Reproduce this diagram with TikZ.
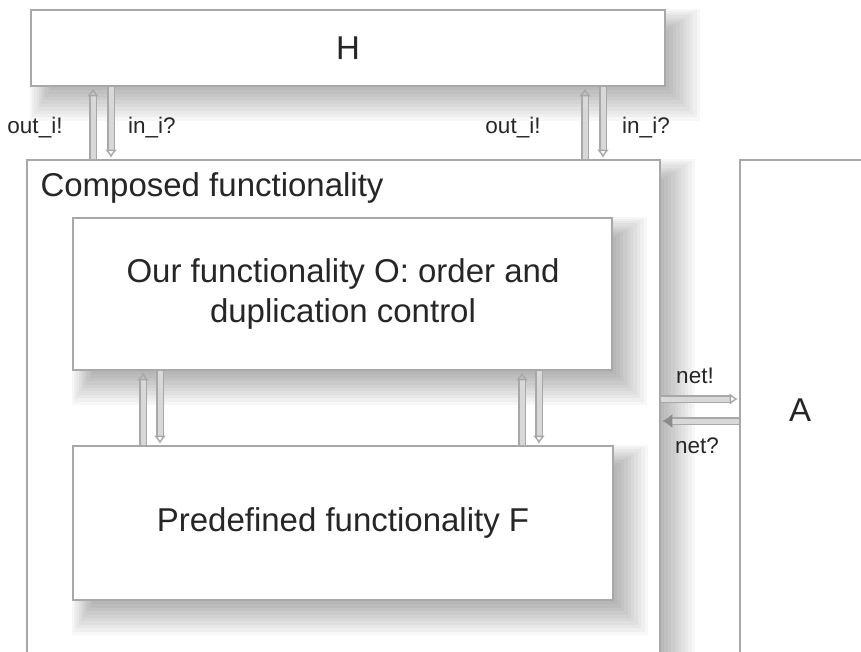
\documentclass[tikz,border=0pt]{standalone}
\usepackage{fontspec}
\setmainfont{Liberation Sans}
\usetikzlibrary{arrows.meta}
\definecolor{bord}{HTML}{A8A8A8}
\definecolor{shaftin}{HTML}{D8D8D8}
\pgfdeclarelayer{shadowone}
\pgfdeclarelayer{boxone}
\pgfdeclarelayer{shadowtwo}
\pgfsetlayers{shadowone,boxone,shadowtwo,main}
\newcommand\softshadow[1]{%
  \foreach \k in {0,...,9}{%
    \pgfmathsetmacro\inn{20-2.2*\k}%
    \pgfmathsetmacro\out{3+3.4*\k}%
    \fill[black, opacity=0.032]
      ([shift={(\inn pt,-\inn pt)}]#1.north west) rectangle
      ([shift={(\out pt,-\out pt)}]#1.south east);}}
\tikzset{
  box/.style={draw=bord, line width=2.6pt, fill=white, rectangle, inner sep=0pt},
  big/.style={font=\fontsize{33}{40}\selectfont, text=black!85},
  small/.style={font=\fontsize{22.5}{26}\selectfont, text=black!85},
  arr/.style={draw=bord, line width=1.4pt, double=shaftin, double distance=5pt,
    -{Latex[open, length=8pt, width=12pt, line width=1.4pt]}, shorten >=1pt},
  arrf/.style={draw=bord, line width=1.4pt, double=shaftin, double distance=5pt,
    -{Latex[length=10pt, width=14pt, fill=gray!90, color=gray!90]}, shorten >=1pt}
}
\begin{document}
\begin{tikzpicture}[x=1pt,y=-1pt]
\useasboundingbox (0,0) rectangle (861,652);
\begin{pgfonlayer}{boxone}
\node[box, minimum width=634pt, minimum height=76pt] (H) at (348,48) {};
\node[box, minimum width=633pt, minimum height=500pt] (C) at (343.5,410) {};
\node[box, minimum width=140pt, minimum height=500pt] (A) at (810,410) {};
\end{pgfonlayer}
\begin{pgfonlayer}{shadowone}
\softshadow{H}
\softshadow{C}
\softshadow{A}
\end{pgfonlayer}
\node[big] at (H.center) {H};
\node[big] (Alab) at (800,410) {A};
\node[big, anchor=west] (Clab) at (37,188) {Composed functionality};
\node[box, minimum width=539pt, minimum height=152pt] (O) at (342.5,294) {};
\node[big, align=center] (Olab) at (343,294) {Our functionality O: order and\\duplication control};
\node[box, minimum width=540pt, minimum height=154pt] (F) at (343,523) {};
\node[big] (Flab) at (343,523) {Predefined functionality F};
\begin{pgfonlayer}{shadowtwo}
\softshadow{O}
\softshadow{F}
\end{pgfonlayer}
% H <-> Composed
\draw[arr] (C.north -| 93,0) -- (H.south -| 93,0);
\draw[arr] (H.south -| 111,0) -- (C.north -| 111,0);
\draw[arr] (C.north -| 585,0) -- (H.south -| 585,0);
\draw[arr] (H.south -| 603,0) -- (C.north -| 603,0);
\node[small] (l1) at (35,128) {out\_i!};
\node[small] (l2) at (152,128) {in\_i?};
\node[small] (l3) at (513,128) {out\_i!};
\node[small] (l4) at (646,128) {in\_i?};
% O <-> F
\draw[arr] (F.north -| 143,0) -- (O.south -| 143,0);
\draw[arr] (O.south -| 160,0) -- (F.north -| 160,0);
\draw[arr] (F.north -| 522,0) -- (O.south -| 522,0);
\draw[arr] (O.south -| 539,0) -- (F.north -| 539,0);
% net
\draw[arr] (C.east |- 0,399) -- (A.west |- 0,399);
\draw[arrf] (A.west |- 0,421) -- (C.east |- 0,421);
\node[small] (n1) at (695,376) {net!};
\node[small] (n2) at (697,446) {net?};
\end{tikzpicture}
\end{document}
